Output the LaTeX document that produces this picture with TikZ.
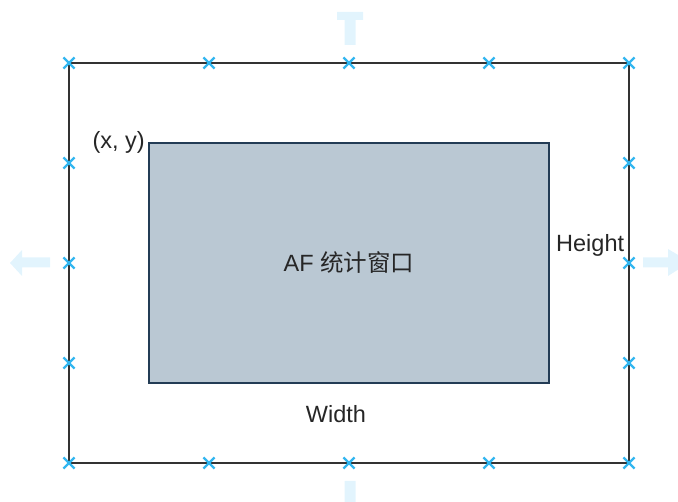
\documentclass[tikz,border=0pt]{standalone}
\usepackage{fontspec}
\setmainfont{Liberation Sans}
\newfontfamily\cjk{Noto Sans CJK SC}
\usepackage{tikz}
\usetikzlibrary{
    positioning,           % Relative positioning
    shapes.misc            % Cross out handles
}
\definecolor{handleblue}{RGB}{50,182,240}
\definecolor{hintblue}{RGB}{226,244,253}
\definecolor{winfill}{RGB}{186,200,211}
\definecolor{winline}{RGB}{35,60,85}
\tikzset{frame/.style={
    draw=black!80, line width=2pt, minimum width=560pt, minimum height=400pt,
    inner sep=0pt
}}
\tikzset{window/.style={
    draw=winline, fill=winfill, line width=1.5pt, minimum width=400pt,
    minimum height=240pt, inner sep=0pt, text=black!85,
    font=\fontsize{23.5}{28}\selectfont
}}
\tikzset{handle/.style={
    cross out, draw=handleblue, line width=2.2pt, minimum size=9pt, inner sep=0pt
}}
\tikzset{hint/.style={fill=hintblue, draw=none}}
\tikzset{lbl/.style={
    inner sep=0pt, anchor=base, text=black!85, font=\fontsize{23.5}{28}\selectfont
}}

\begin{document}
\begin{tikzpicture}[x=1pt, y=-1pt]
    \useasboundingbox (0,0) rectangle (678,502);
    \clip (0,0) rectangle (678,502);

    % hover arrows round the frame
    \path[hint] (337,12) -- (363,12) -- (363,20) -- (355.5,20) -- (355.5,45)
        -- (344.5,45) -- (344.5,20) -- (337,20) -- cycle;
    \path[hint] (10,263) -- (22,250) -- (22,257.5) -- (50,257.5) -- (50,267.5)
        -- (22,267.5) -- (22,276) -- cycle;
    \path[hint] (690,262) -- (668,249) -- (668,257.5) -- (643,257.5) -- (643,267.5)
        -- (668,267.5) -- (668,276) -- cycle;
    \path[hint] (344.5,481) -- (355.5,481) -- (355.5,509) -- (363,509)
        -- (350,521) -- (337,509) -- (344.5,509) -- cycle;

    \node[frame] (frame) at (349,263) {};
    \node[window] (win) at (349,263) {AF {\cjk 统计窗口}};

    \node[lbl, anchor=base east] (xy) at (145,149) {(x, y)};
    \node[lbl, anchor=base west] (height) at (556,252) {Height};
    \node[lbl] (width) at (336,423) {Width};

    % selection handles
    \foreach \x [count=\i] in {69,209,349,489,629} {
        \node[handle] (ht\i) at (\x,63) {};
        \node[handle] (hb\i) at (\x,463) {};
    }
    \foreach \y [count=\i] in {163,263,363} {
        \node[handle] (hl\i) at (69,\y) {};
        \node[handle] (hr\i) at (629,\y) {};
    }
\end{tikzpicture}
\end{document}
